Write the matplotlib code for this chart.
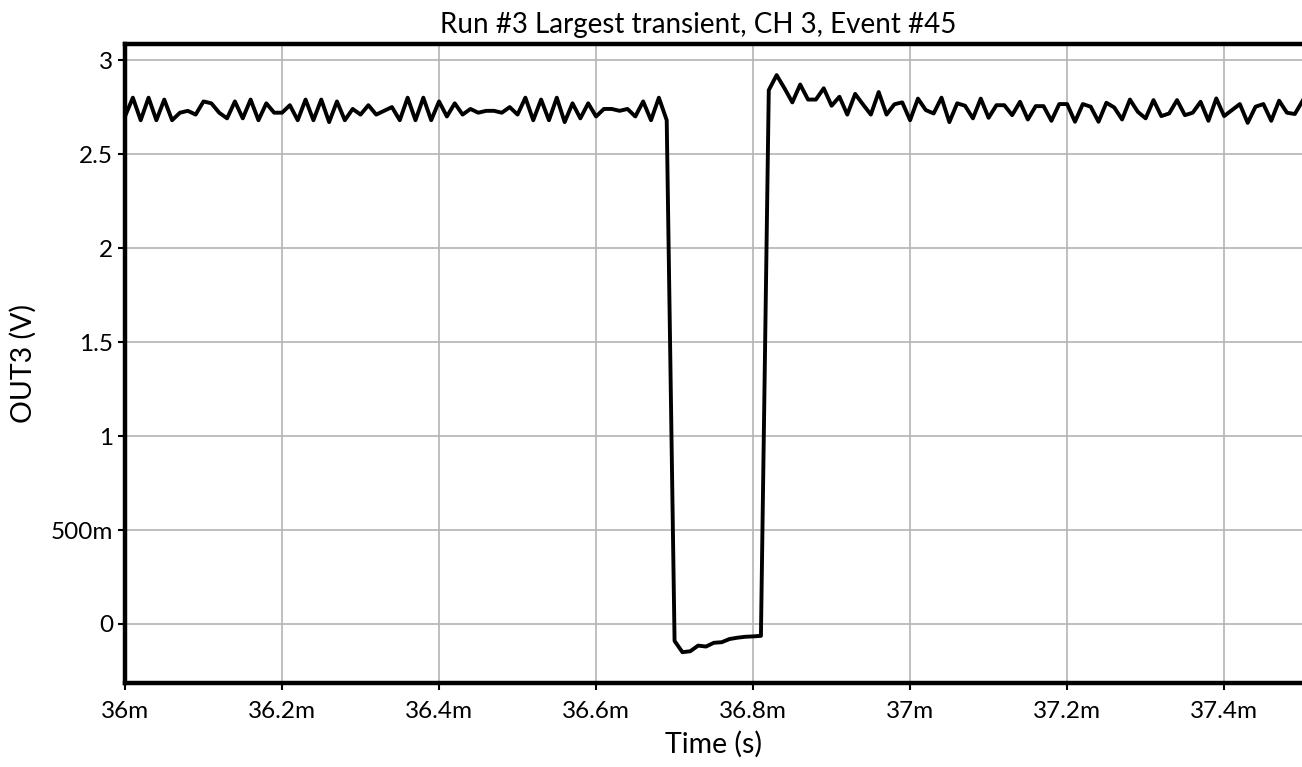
# import modules -------------------------------------------------------------------------------------------------------
import numpy as np
import matplotlib
matplotlib.use('Agg')
from matplotlib import pyplot as plt
from matplotlib.ticker import FixedLocator, FuncFormatter
# ----------------------------------------------------------------------------------------------------------------------


# data -----------------------------------------------------------------------------------------------------------------
T_START = 36e-3        # first sample (s)
T_STEP = 10e-6         # sample period (s)

out3_volts = [
    2.70, 2.80, 2.68, 2.80, 2.68, 2.79, 2.68, 2.72, 2.73, 2.71, 2.78, 2.77, 2.72, 2.69, 2.78, 2.69, 2.79, 2.68,
    2.77, 2.72, 2.72, 2.76, 2.68, 2.79, 2.68, 2.79, 2.67, 2.78, 2.68, 2.74, 2.71, 2.76, 2.71, 2.73, 2.75, 2.68,
    2.80, 2.68,
    2.80, 2.68, 2.78, 2.70, 2.77, 2.71, 2.74, 2.72, 2.73, 2.73, 2.72, 2.75, 2.71, 2.80, 2.68, 2.79, 2.68, 2.80,
    2.67, 2.77, 2.69, 2.77, 2.70, 2.74, 2.74, 2.73, 2.74, 2.70, 2.78, 2.68, 2.80, 2.68,
    -0.09, -0.15, -0.145, -0.115, -0.12, -0.10, -0.097, -0.08, -0.073, -0.068, -0.066, -0.063,
    2.84, 2.92, 2.85, 2.775, 2.87, 2.79, 2.79, 2.85, 2.757, 2.805, 2.71, 2.82, 2.764, 2.71, 2.83, 2.71, 2.765,
    2.775, 2.68, 2.795, 2.734, 2.716, 2.80, 2.67, 2.77, 2.757, 2.69, 2.795, 2.693, 2.76, 2.76,
    2.707, 2.778, 2.684, 2.755, 2.755, 2.677, 2.766, 2.766, 2.672, 2.766, 2.752, 2.672, 2.773, 2.748, 2.684,
    2.79, 2.725, 2.69, 2.787, 2.702, 2.716, 2.787, 2.707, 2.72, 2.778, 2.677, 2.796, 2.702, 2.734, 2.766, 2.666,
    2.752, 2.766, 2.677, 2.784, 2.72, 2.713, 2.784,
]

x_ticks = [36.0e-3, 36.2e-3, 36.4e-3, 36.6e-3, 36.8e-3, 37.0e-3, 37.2e-3, 37.4e-3]
y_ticks = [0, 0.5, 1, 1.5, 2, 2.5, 3]
y_tick_labels = ['0', '500m', '1', '1.5', '2', '2.5', '3']
# ----------------------------------------------------------------------------------------------------------------------


# plot graph -----------------------------------------------------------------------------------------------------------
def plot_graph():
    plt.rcParams['font.family'] = ['Lato', 'DejaVu Sans']
    t = T_START + T_STEP * np.arange(len(out3_volts))

    fig = plt.figure(figsize=(13.02, 7.67), dpi=100)
    ax = fig.add_axes([0.096, 0.1095, 0.9045, 0.833])
    ax.plot(t, out3_volts, color='black', lw=2.8, zorder=3)

    ax.set_xlim(36e-3, 37.5e-3)
    ax.set_ylim(-0.314, 3.085)
    ax.xaxis.set_major_locator(FixedLocator(x_ticks))
    ax.xaxis.set_major_formatter(FuncFormatter(lambda v, _: f'{v * 1e3:g}m'))
    ax.yaxis.set_major_locator(FixedLocator(y_ticks))
    ax.set_yticklabels(y_tick_labels)

    ax.grid(True, color='#b4b4b4', lw=1.2)
    ax.tick_params(labelsize=17.5, length=5, width=1.5, direction='out', color='black')
    ax.tick_params(axis='x', pad=8)
    for side in ('left', 'bottom', 'top'):
        ax.spines[side].set_linewidth(3.2)
    ax.spines['right'].set_visible(False)

    ax.set_xlabel('Time (s)', fontsize=20.5, labelpad=6)
    ax.set_ylabel('OUT3 (V)', fontsize=20.5, labelpad=10)
    ax.set_title('Run #3 Largest transient, CH 3, Event #45', fontsize=20, pad=8, x=0.487)
    fig.savefig('out.png', dpi=100)
# ----------------------------------------------------------------------------------------------------------------------


# start the program ----------------------------------------------------------------------------------------------------
if __name__ == '__main__':
    plot_graph()
# ----------------------------------------------------------------------------------------------------------------------
